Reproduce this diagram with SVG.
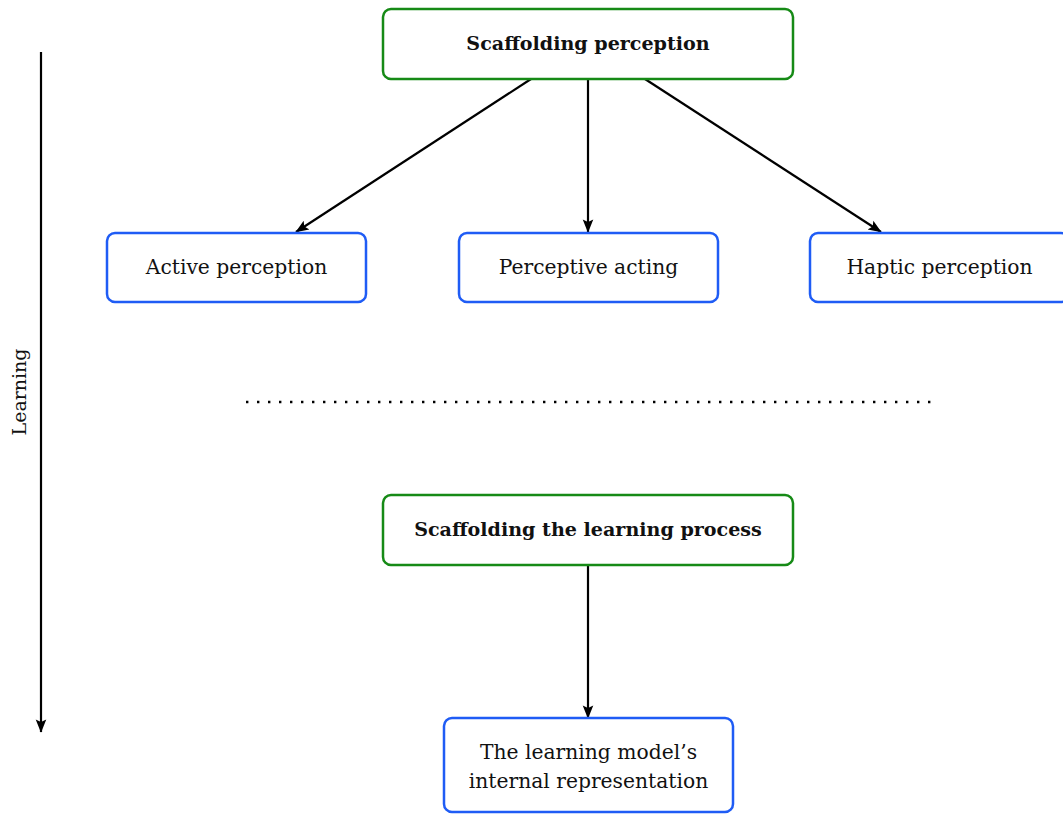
<svg xmlns="http://www.w3.org/2000/svg" width="1063" height="814" viewBox="0 0 1063 814">
  <style>
    .txt { font-family: "DejaVu Serif", "Liberation Serif", serif; font-size: 20.3px; fill: #111; text-anchor: middle; }
    .bold { font-weight: bold; font-size: 19.1px; }
    .green { fill: #fff; stroke: #168a16; stroke-width: 2.5; }
    .blue { fill: #fff; stroke: #1f5cf5; stroke-width: 2.5; }
    .edge { stroke: #000; stroke-width: 2.2; fill: none; marker-end: url(#arrow); }
  </style>
  <defs>
    <marker id="arrow" viewBox="0 0 10 10" refX="9.5" refY="5" markerWidth="6" markerHeight="6" markerUnits="strokeWidth" orient="auto">
      <path d="M0,1 L10,5 L0,9 L2,5 Z" fill="#000"/>
    </marker>
  </defs>

  <!-- learning axis -->
  <g id="axis">
    <line class="edge" x1="41" y1="52" x2="41" y2="732"/>
    <text class="txt" style="font-size:19px" transform="translate(26,392) rotate(-90)">Learning</text>
  </g>

  <!-- separator -->
  <line id="separator" x1="246" y1="402" x2="934" y2="402" stroke="#000" stroke-width="2.4" stroke-dasharray="2.4,8.6"/>

  <g id="connectors">
    <line class="edge" x1="531" y1="79" x2="296" y2="232"/>
    <line class="edge" x1="588" y1="79" x2="588" y2="232"/>
    <line class="edge" x1="645" y1="79" x2="881" y2="232"/>
    <line class="edge" x1="588" y1="565" x2="588" y2="718"/>
  </g>

  <g id="scaffolding-perception">
    <rect class="green" x="383" y="9" width="410" height="70" rx="8"/>
    <text class="txt bold" x="588" y="50">Scaffolding perception</text>
  </g>

  <g id="active-perception">
    <rect class="blue" x="107" y="233" width="259" height="69" rx="8"/>
    <text class="txt" x="236.5" y="274">Active perception</text>
  </g>

  <g id="perceptive-acting">
    <rect class="blue" x="459" y="233" width="259" height="69" rx="8"/>
    <text class="txt" x="588.5" y="274">Perceptive acting</text>
  </g>

  <g id="haptic-perception">
    <rect class="blue" x="810" y="233" width="259" height="69" rx="8"/>
    <text class="txt" x="939.5" y="274">Haptic perception</text>
  </g>

  <g id="scaffolding-learning">
    <rect class="green" x="383" y="495" width="410" height="70" rx="8"/>
    <text class="txt bold" x="588" y="536">Scaffolding the learning process</text>
  </g>

  <g id="internal-representation">
    <rect class="blue" x="444" y="718" width="289" height="94" rx="8"/>
    <text class="txt" x="588.5" y="759">The learning model’s</text>
    <text class="txt" x="588.5" y="788">internal representation</text>
  </g>
</svg>
